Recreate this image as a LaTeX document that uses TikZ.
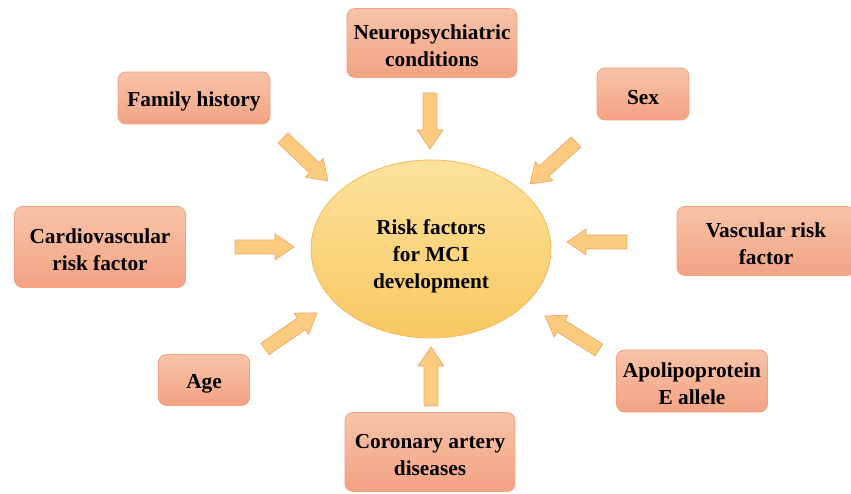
\documentclass[tikz,border=0pt]{standalone}
\usepackage{fontspec}
\setmainfont{Liberation Serif}
\usetikzlibrary{calc}
\definecolor{boxtop}{HTML}{F7C3A8}
\definecolor{boxbot}{HTML}{F3A383}
\definecolor{boxline}{HTML}{F0A283}
\definecolor{elltop}{HTML}{FDE29C}
\definecolor{ellbot}{HTML}{F8C862}
\definecolor{ellline}{HTML}{F2B860}
\definecolor{arrfill}{HTML}{FBCB80}
\definecolor{arrline}{HTML}{EFAA6A}
\newcommand\tstr{\rule{0pt}{21pt}}
\tikzset{
  factor/.style={draw=boxline, line width=0.8pt, top color=boxtop, bottom color=boxbot,
    rounded corners=8pt, align=center, font=\fontsize{21.3}{27}\selectfont\bfseries,
    inner sep=0pt},
}
\newcommand\blkarrow[2]{%
  \path let \p1=($(#2)-(#1)$), \n1={atan2(\y1,\x1)}, \n2={veclen(\x1,\y1)} in
    [shift={(#1)}, rotate=\n1]
    (0pt,-7pt) coordinate (q1) (\n2-19pt,-7pt) coordinate (q2) (\n2-19pt,-13pt) coordinate (q3)
    (\n2,0pt) coordinate (q4) (\n2-19pt,13pt) coordinate (q5) (\n2-19pt,7pt) coordinate (q6)
    (0pt,7pt) coordinate (q7);
  \draw[draw=arrline, fill=arrfill, line width=0.7pt, line join=miter]
    (q1) -- (q2) -- (q3) -- (q4) -- (q5) -- (q6) -- (q7) -- cycle;
}
\begin{document}
\begin{tikzpicture}[x=1pt,y=-1pt]
\useasboundingbox (0,0) rectangle (851,494);
% centre ellipse
\shade[top color=elltop, bottom color=ellbot] (431,249) ellipse [x radius=120, y radius=89];
\draw[ellline, line width=0.8pt] (431,249) ellipse [x radius=120, y radius=89];
\node[align=center, font=\fontsize{21.3}{27}\selectfont\bfseries] (mci) at (431,256)
  {Risk factors\\for MCI\\development};
% factor boxes
\node[factor, minimum width=170, minimum height=69] (neuro) at (432,43) {\tstr Neuropsychiatric\\conditions};
\node[factor, minimum width=152, minimum height=52] (fam) at (194,98) {\tstr Family history};
\node[factor, minimum width=92, minimum height=52] (sex) at (643,94) {\tstr Sex};
\node[factor, minimum width=171, minimum height=81] (cardio) at (100,247) {\tstr Cardiovascular\\risk factor};
\node[factor, minimum width=178, minimum height=69] (vasc) at (766,241) {\tstr Vascular risk\\factor};
\node[factor, minimum width=91, minimum height=51] (age) at (204,380) {\tstr Age};
\node[factor, minimum width=151, minimum height=62] (apo) at (692,381) {\tstr Apolipoprotein\\E allele};
\node[factor, minimum width=170, minimum height=79] (cor) at (430,452) {\tstr Coronary artery\\diseases};
% arrow end points
\coordinate (a1s) at (430,93);  \coordinate (a1e) at (430,149);
\coordinate (a2s) at (283,138); \coordinate (a2e) at (328,181);
\coordinate (a3s) at (576,142); \coordinate (a3e) at (530,184);
\coordinate (a4s) at (235,247); \coordinate (a4e) at (294,247);
\coordinate (a5s) at (627,242); \coordinate (a5e) at (567,242);
\coordinate (a6s) at (265,349); \coordinate (a6e) at (317,313);
\coordinate (a7s) at (599,350); \coordinate (a7e) at (545,316);
\coordinate (a8s) at (431,406); \coordinate (a8e) at (431,347);
\blkarrow{a1s}{a1e}
\blkarrow{a2s}{a2e}
\blkarrow{a3s}{a3e}
\blkarrow{a4s}{a4e}
\blkarrow{a5s}{a5e}
\blkarrow{a6s}{a6e}
\blkarrow{a7s}{a7e}
\blkarrow{a8s}{a8e}
\end{tikzpicture}
\end{document}
